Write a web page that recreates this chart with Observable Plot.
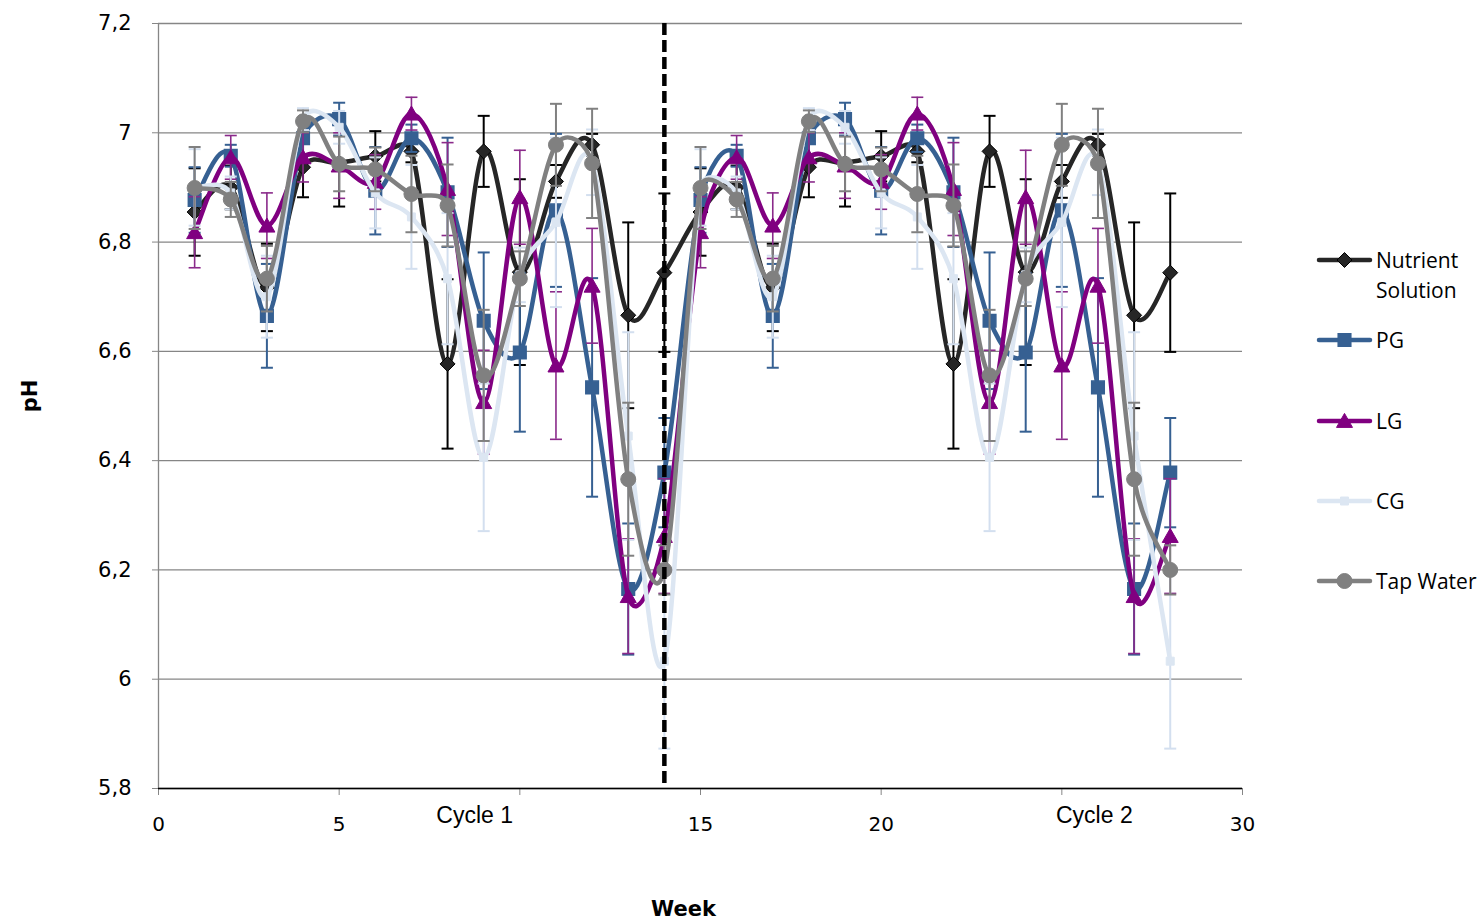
<!DOCTYPE html>
<html>
<head>
<meta charset="utf-8">
<script src="https://cdn.jsdelivr.net/npm/d3@7"></script>
<script src="https://cdn.jsdelivr.net/npm/@observablehq/plot@0.6"></script>
<style>
  body { margin: 0; background: #fff; }
  #wrap { position: relative; width: 1484px; height: 922px; overflow: hidden; }
  #legend { position: absolute; left: 0; top: 0; font-family: "Open Sans", sans-serif; font-size: 21px; color: #000; }
  .item { position: absolute; display: flex; align-items: flex-start; }
  .item svg { flex: none; }
  .item .lbl { line-height: 30px; white-space: nowrap; }
</style>
</head>
<body>
<div id="wrap"></div>
<script>
// ---------------- DATA ----------------
const weeks = [1, 2, 3, 4, 5, 6, 7, 8, 9, 10, 11, 12, 13, 14,
               15, 16, 17, 18, 19, 20, 21, 22, 23, 24, 25, 26, 27, 28];

const seriesNames = ["Nutrient Solution", "PG", "LG", "CG", "Tap Water"];

const nutrientSolutionPH = [6.855, 6.900, 6.717, 6.937, 6.945, 6.957, 6.966, 6.577, 6.966, 6.745, 6.911, 6.978, 6.666, 6.744,
                            6.855, 6.900, 6.717, 6.937, 6.945, 6.957, 6.966, 6.577, 6.966, 6.745, 6.911, 6.978, 6.666, 6.744];
const nutrientSolutionSD = [0.080, 0.040, 0.080, 0.055, 0.080, 0.046, 0.020, 0.155, 0.065, 0.170, 0.030, 0.020, 0.170, 0.145,
                            0.080, 0.040, 0.080, 0.055, 0.080, 0.046, 0.020, 0.155, 0.065, 0.170, 0.030, 0.020, 0.170, 0.145];

const pgPH = [6.877, 6.958, 6.665, 6.990, 7.025, 6.894, 6.990, 6.891, 6.656, 6.598, 6.858, 6.534, 6.165, 6.378,
              6.877, 6.958, 6.665, 6.990, 7.025, 6.894, 6.990, 6.891, 6.656, 6.598, 6.858, 6.534, 6.165, 6.378];
const pgSD = [0.060, 0.020, 0.095, 0.030, 0.030, 0.080, 0.025, 0.100, 0.125, 0.145, 0.140, 0.200, 0.120, 0.100,
              0.060, 0.020, 0.095, 0.030, 0.030, 0.080, 0.025, 0.100, 0.125, 0.145, 0.140, 0.200, 0.120, 0.100];

const lgPH = [6.818, 6.955, 6.830, 6.955, 6.940, 6.910, 7.035, 6.897, 6.507, 6.882, 6.574, 6.720, 6.152, 6.262,
              6.818, 6.955, 6.830, 6.955, 6.940, 6.910, 7.035, 6.897, 6.507, 6.882, 6.574, 6.720, 6.152, 6.262];
const lgSD = [0.065, 0.040, 0.060, 0.045, 0.060, 0.050, 0.030, 0.085, 0.095, 0.086, 0.135, 0.105, 0.105, 0.105,
              0.065, 0.040, 0.060, 0.045, 0.060, 0.050, 0.030, 0.085, 0.095, 0.086, 0.135, 0.105, 0.105, 0.105];

const cgPH = [6.900, 6.890, 6.700, 7.025, 7.010, 6.890, 6.846, 6.733, 6.406, 6.740, 6.836, 6.946, 6.445, 6.033,
              6.900, 6.890, 6.700, 7.025, 7.010, 6.890, 6.846, 6.733, 6.406, 6.740, 6.836, 6.946, 6.445, 6.033];
const cgSD = [0.070, 0.030, 0.075, 0.020, 0.030, 0.065, 0.095, 0.120, 0.135, 0.050, 0.155, 0.060, 0.190, 0.160,
              0.070, 0.030, 0.075, 0.020, 0.030, 0.065, 0.095, 0.120, 0.135, 0.050, 0.155, 0.060, 0.190, 0.160];

const tapWaterPH = [6.899, 6.878, 6.733, 7.021, 6.943, 6.933, 6.888, 6.867, 6.556, 6.733, 6.978, 6.944, 6.366, 6.200,
                    6.899, 6.878, 6.733, 7.021, 6.943, 6.933, 6.888, 6.867, 6.556, 6.733, 6.978, 6.944, 6.366, 6.200];
const tapWaterSD = [0.075, 0.032, 0.060, 0.020, 0.050, 0.040, 0.070, 0.075, 0.120, 0.050, 0.075, 0.100, 0.140, 0.045,
                    0.075, 0.032, 0.060, 0.020, 0.050, 0.040, 0.070, 0.075, 0.120, 0.050, 0.075, 0.100, 0.140, 0.045];

const yTickValues = [5.8, 6, 6.2, 6.4, 6.6, 6.8, 7, 7.2];
const yTickLabels = ["5,8", "6", "6,2", "6,4", "6,6", "6,8", "7", "7,2"];
const xTickValues = [0, 5, 10, 15, 20, 25, 30];
const xTickLabels = ["0", "5", "", "15", "20", "", "30"];
const cycleLabels = ["Cycle 1", "Cycle 2"];
const cycleLabelWeeks = [8.75, 25.9];
const cycleBoundaryWeek = [14];
const xTitle = "Week";
const yTitle = "pH";

// ---------------- SMOOTH CURVE (spreadsheet-style Bezier smoothing) ----------------
function SmoothCurve(context) { this._context = context; }
SmoothCurve.prototype = {
  areaStart() { this._line = 0; },
  areaEnd() { this._line = NaN; },
  lineStart() { this._pts = []; },
  point(x, y) { this._pts.push([+x, +y]); },
  lineEnd() {
    const P = this._pts, n = P.length, c = this._context;
    if (!n) return;
    c.moveTo(P[0][0], P[0][1]);
    if (n === 1) return;
    const limit = (vx, vy, cap) => {
      const L = Math.hypot(vx, vy);
      if (L > cap && L > 0) { const s = cap / L; return [vx * s, vy * s]; }
      return [vx, vy];
    };
    for (let i = 0; i < n - 1; i++) {
      const p0 = P[Math.max(i - 1, 0)], p1 = P[i], p2 = P[i + 1], p3 = P[Math.min(i + 2, n - 1)];
      const cap = 0.5 * Math.hypot(p2[0] - p1[0], p2[1] - p1[1]);
      const v1 = limit((p2[0] - p0[0]) / 6, (p2[1] - p0[1]) / 6, cap);
      const v2 = limit((p3[0] - p1[0]) / 6, (p3[1] - p1[1]) / 6, cap);
      c.bezierCurveTo(p1[0] + v1[0], p1[1] + v1[1], p2[0] - v2[0], p2[1] - v2[1], p2[0], p2[1]);
    }
  }
};
const smoothCurve = context => new SmoothCurve(context);

// ---------------- STYLES ----------------
function unitR(size) { return Math.sqrt(size / Math.PI); }
const diamondSym = { draw(c, s) { const r = unitR(s); c.moveTo(0, -r); c.lineTo(r, 0); c.lineTo(0, r); c.lineTo(-r, 0); c.closePath(); } };
const squareSym = { draw(c, s) { const r = unitR(s); c.rect(-r, -r, 2 * r, 2 * r); } };
const triangleSym = { draw(c, s) { const r = unitR(s); c.moveTo(0, -0.95 * r); c.lineTo(r, 0.8 * r); c.lineTo(-r, 0.8 * r); c.closePath(); } };
const circleSym = { draw(c, s) { const r = unitR(s); c.moveTo(r, 0); c.arc(0, 0, r, 0, 2 * Math.PI); c.closePath(); } };
const capSym = { draw(c, s) { const r = unitR(s); c.moveTo(-r, 0); c.lineTo(r, 0); } };

const seriesStyles = [
  { line: "#262626", fill: "#262626", stroke: "#000000", sw: 1, symbol: diamondSym, r: 7.5, err: "#000000", errW: 2 },
  { line: "#366092", fill: "#366092", stroke: "#366092", sw: 1.5, symbol: squareSym, r: 6.3, err: "#366092", errW: 2 },
  { line: "#800080", fill: "#800080", stroke: "#800080", sw: 1, symbol: triangleSym, r: 8, err: "#8a2a8a", errW: 1.6 },
  { line: "#dce6f2", fill: "#dce6f2", stroke: "#dce6f2", sw: 1, symbol: squareSym, r: 4, err: "#d3dfef", errW: 2 },
  { line: "#808080", fill: "#808080", stroke: "#808080", sw: 1, symbol: circleSym, r: 7.5, err: "#808080", errW: 2 }
];

const seriesValues = [nutrientSolutionPH, pgPH, lgPH, cgPH, tapWaterPH];
const seriesSDs = [nutrientSolutionSD, pgSD, lgSD, cgSD, tapWaterSD];

// ---------------- MARKS ----------------
const marks = [
  Plot.gridY({ ticks: yTickValues, stroke: "#868686", strokeOpacity: 1, strokeWidth: 1.3 }),
  Plot.ruleX([0], { stroke: "#868686", strokeWidth: 1.3 }),
  Plot.axisY({ ticks: yTickValues, tickFormat: d => yTickLabels[yTickValues.indexOf(d)], tickSize: 6, tickPadding: 21,
               stroke: "#868686", fontSize: 21, fontFamily: "DejaVu Sans", label: null }),
  Plot.axisX({ ticks: xTickValues, tickFormat: d => xTickLabels[xTickValues.indexOf(d)], tickSize: 7, tickPadding: 21,
               stroke: "#868686", fontSize: 20, fontFamily: "DejaVu Sans", label: null }),
  Plot.ruleY([5.8], { stroke: "#000", strokeWidth: 1.3 })
];

seriesNames.forEach((name, si) => {
  const st = seriesStyles[si];
  const rows = weeks.map((w, i) => ({ series: name, week: w, ph: seriesValues[si][i], sd: seriesSDs[si][i] }));
  marks.push(
    Plot.ruleX(rows, { x: "week", y1: d => d.ph - d.sd, y2: d => d.ph + d.sd, stroke: st.err, strokeWidth: st.errW }),
    Plot.dot(rows, { x: "week", y: d => d.ph - d.sd, symbol: capSym, r: 6, fill: "none", stroke: st.err, strokeWidth: st.errW }),
    Plot.dot(rows, { x: "week", y: d => d.ph + d.sd, symbol: capSym, r: 6, fill: "none", stroke: st.err, strokeWidth: st.errW }),
    Plot.line(rows, { x: "week", y: "ph", stroke: st.line, strokeWidth: 4.5, curve: smoothCurve,
                      strokeLinejoin: "round", strokeLinecap: "round" }),
    Plot.dot(rows, { x: "week", y: "ph", symbol: st.symbol, r: st.r, fill: st.fill, stroke: st.stroke, strokeWidth: st.sw })
  );
});

marks.push(
  Plot.ruleX(cycleBoundaryWeek, { stroke: "#000", strokeWidth: 4.5, strokeDasharray: "12,5" }),
  Plot.text(cycleLabels.map((t, i) => ({ t, w: cycleLabelWeeks[i] })),
            { x: "w", y: () => 5.8, text: "t", dy: 27, fontSize: 23, fontFamily: "Liberation Sans", fill: "#000" }),
  Plot.text([xTitle], { text: d => d, frameAnchor: "bottom", dy: 127, dx: -17, fontSize: 21, fontWeight: "bold",
                        fontFamily: "DejaVu Sans", fill: "#000" }),
  Plot.text([yTitle], { text: d => d, frameAnchor: "left", textAnchor: "middle", dx: -128, dy: -10, rotate: -90, fontSize: 21,
                        fontWeight: "bold", fontFamily: "DejaVu Sans", fill: "#000" })
);

const chart = Plot.plot({
  width: 1484, height: 922,
  marginLeft: 158, marginRight: 242, marginTop: 23, marginBottom: 134,
  x: { domain: [0, 30] },
  y: { domain: [5.8, 7.2] },
  style: { fontFamily: "DejaVu Sans", fontSize: "20px", color: "#000", background: "#fff", overflow: "visible" },
  marks
});

const wrap = document.getElementById("wrap");
wrap.appendChild(chart);

// ---------------- LEGEND ----------------
const legend = document.createElement("div");
legend.id = "legend";
const legendCenters = [260, 340, 421, 501, 581];
seriesNames.forEach((name, si) => {
  const st = seriesStyles[si];
  const item = document.createElement("div");
  item.className = "item";
  item.style.left = "1316px";
  item.style.top = (legendCenters[si] - 15) + "px";
  const p = d3.path();
  st.symbol.draw(p, st.r * st.r * Math.PI);
  item.innerHTML =
    `<svg width="58" height="30" viewBox="0 0 58 30">
       <line x1="3" x2="54" y1="15" y2="15" stroke="${st.line}" stroke-width="4.5" stroke-linecap="round"/>
       <path transform="translate(28.5,15)" d="${p.toString()}" fill="${st.fill}" stroke="${st.stroke}" stroke-width="${st.sw}"/>
     </svg>`;
  const lbl = document.createElement("div");
  lbl.className = "lbl";
  lbl.style.marginLeft = "2px";
  const parts = name.length > 12 ? name.split(" ") : [name];
  lbl.innerHTML = parts.join("<br>");
  item.appendChild(lbl);
  legend.appendChild(item);
});
wrap.appendChild(legend);
</script>
</body>
</html>
